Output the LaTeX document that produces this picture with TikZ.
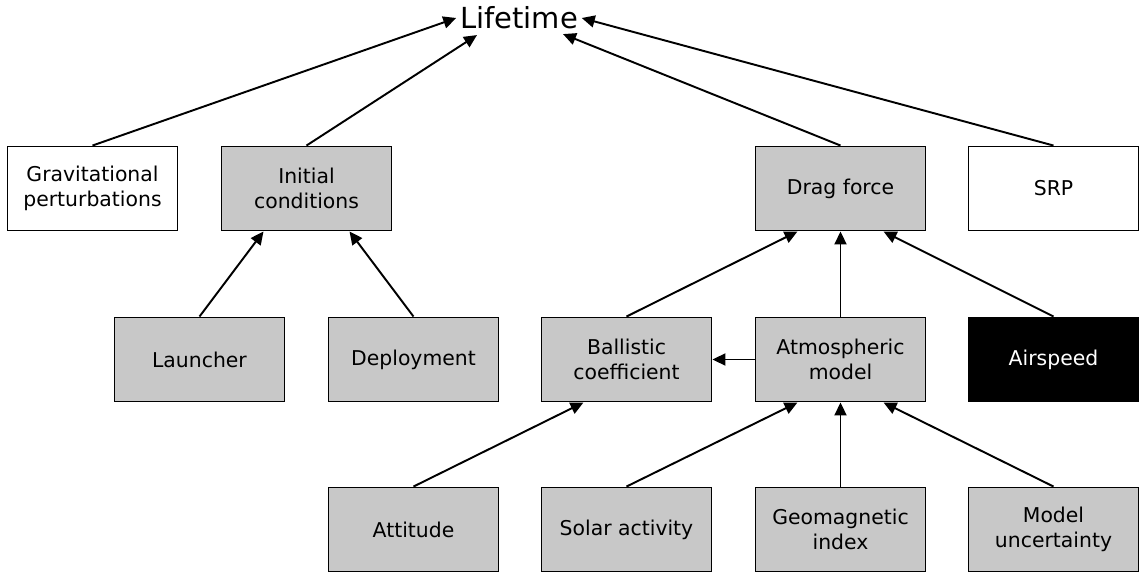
\documentclass[tikz,border=0pt]{standalone}
\usepackage{fontspec}
\setmainfont{DejaVu Sans}
\usetikzlibrary{arrows.meta,calc}
\definecolor{boxgray}{RGB}{200,200,200}
\tikzset{
  box/.style={draw, line width=1.1pt, minimum width=3.4cm, minimum height=1.68cm,
    align=center, inner sep=0pt, font=\fontsize{11.6}{14}\selectfont},
  graybox/.style={box, fill=boxgray},
  blackbox/.style={box, fill=black, text=white},
  link/.style={line width=1.1pt, -{Triangle[length=0.26cm,width=0.24cm]}},
}

\begin{document}
\begin{tikzpicture}[x=0.02cm, y=-0.02cm]
	%%%%% FRAME %%%%%
	\useasboundingbox (0, 0) rectangle (1142, 577);
	
	\node[inner sep=2pt, font=\fontsize{16.5}{18}\selectfont] (life) at (519, 18) {Lifetime};
	
	% top row
	\node[box]     (grav) at (92.5, 188.5)  {Gravitational\\perturbations};
	\node[graybox] (init) at (306.5, 188.5) {Initial\\conditions};
	\node[graybox] (drag) at (840.5, 188.5) {Drag force};
	\node[box]     (srp)  at (1053.5, 188.5) {SRP};
	
	% middle row
	\node[graybox]  (launch) at (199.5, 359.5)  {Launcher};
	\node[graybox]  (deploy) at (413.5, 359.5)  {Deployment};
	\node[graybox]  (ballis) at (626.5, 359.5)  {Ballistic\\coefficient};
	\node[graybox]  (atmos)  at (840.5, 359.5)  {Atmospheric\\model};
	\node[blackbox] (air)    at (1053.5, 359.5) {Airspeed};
	
	% bottom row
	\node[graybox] (att)   at (413.5, 529.5)  {Attitude};
	\node[graybox] (solar) at (626.5, 529.5)  {Solar activity};
	\node[graybox] (geo)   at (840.5, 529.5)  {Geomagnetic\\index};
	\node[graybox] (unc)   at (1053.5, 529.5) {Model\\uncertainty};
	
	%%%%% ARROWS %%%%%
	\draw[link] (grav.north) -- (life.west);
	\draw[link] (init.north) -- ($(life.south)+(-42, 2)$);
	\draw[link] (drag.north) -- ($(life.south)+(44, 1)$);
	\draw[link] (srp.north)  -- (life.east);
	
	\draw[link] (launch.north) -- ($(init.south)+(-43, 0)$);
	\draw[link] (deploy.north) -- ($(init.south)+(43, 0)$);
	
	\draw[link] (ballis.north) -- ($(drag.south)+(-43, 0)$);
	\draw[link] (atmos.north)  -- (drag.south);
	\draw[link] (air.north)    -- ($(drag.south)+(43, 0)$);
	\draw[link] (atmos.west)   -- (ballis.east);
	
	\draw[link] (att.north)   -- ($(ballis.south)+(-43, 0)$);
	\draw[link] (solar.north) -- ($(atmos.south)+(-43, 0)$);
	\draw[link] (geo.north)   -- (atmos.south);
	\draw[link] (unc.north)   -- ($(atmos.south)+(43, 0)$);
\end{tikzpicture}
\end{document}
